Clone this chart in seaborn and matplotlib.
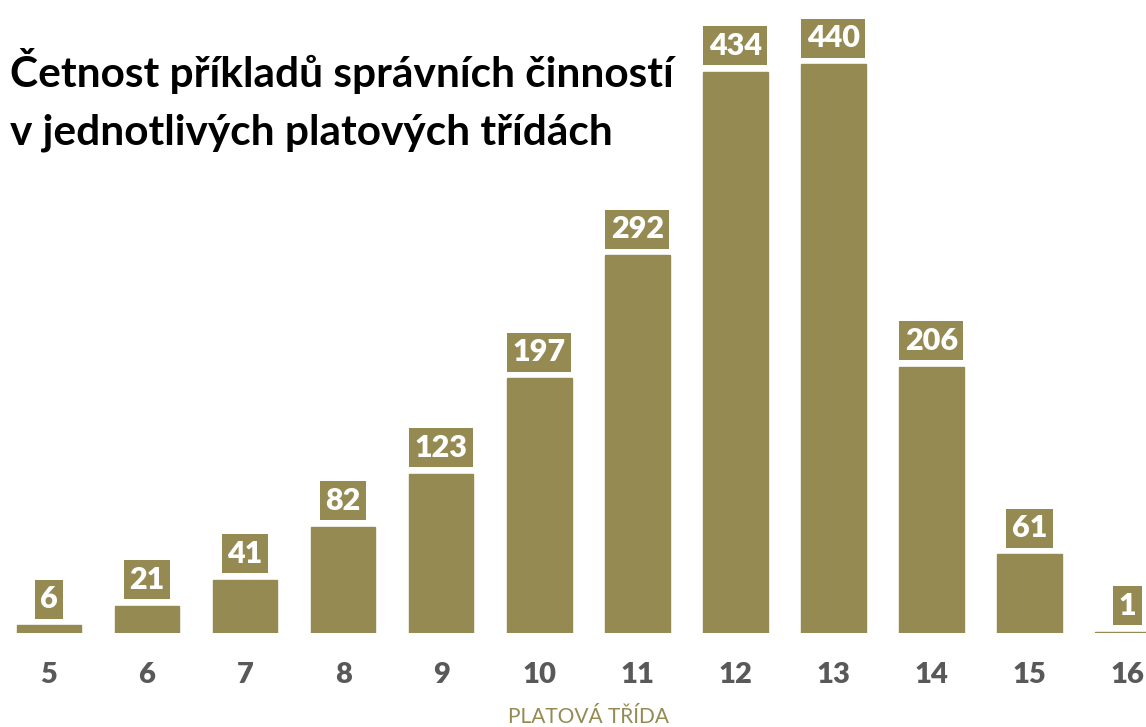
import matplotlib
matplotlib.use("Agg")
import matplotlib.pyplot as plt
import seaborn as sns
import pandas as pd

# Data
tridy = ["5", "6", "7", "8", "9", "10", "11", "12", "13", "14", "15", "16"]
cetnosti = [6, 21, 41, 82, 123, 197, 292, 434, 440, 206, 61, 1]

title_lines = ["Četnost příkladů správních činností",
               "v jednotlivých platových třídách"]
x_title = "PLATOVÁ TŘÍDA"

olive = "#958A52"
W, H = 1146, 727

sns.set_theme(style="white")
plt.rcParams['font.family'] = ['Lato', 'DejaVu Sans']

df = pd.DataFrame({"trida": tridy, "pocet": cetnosti})

fig = plt.figure(figsize=(W / 100, H / 100), dpi=100)
ax = fig.add_axes([0, 94 / H, 1, 633 / H])

sns.barplot(data=df, x="trida", y="pocet", color=olive, saturation=1,
            width=0.66, edgecolor=olive, linewidth=1, ax=ax)

ax.set_xlim(-0.5, 11.19)
ax.set_ylim(0, 489.5)
for s in ax.spines.values():
    s.set_visible(False)
ax.set_yticks([])
ax.set_ylabel("")
ax.set_xlabel("")
ax.set_xticks(range(len(tridy)))
ax.set_xticklabels(tridy, fontweight="heavy", fontsize=21, color="#595959")
ax.tick_params(axis="x", length=0, pad=21)

# value labels in boxes above the bars
for i, v in enumerate(cetnosti):
    ax.annotate(str(v), (i, v), xytext=(0, 12), textcoords="offset pixels",
                ha="center", va="bottom", fontsize=22, fontweight="heavy",
                color="white",
                bbox=dict(boxstyle="square,pad=0.18", fc=olive, ec="none"))

fig.text(588 / W, 1 - 717 / H, x_title, ha="center", va="center",
         fontsize=15, color=olive)

fig.text(10 / W, 1 - 87 / H, title_lines[0], ha="left", va="baseline",
         fontsize=30.5, fontweight="bold", color="black")
fig.text(10 / W, 1 - 145 / H, title_lines[1], ha="left", va="baseline",
         fontsize=30.5, fontweight="bold", color="black")

fig.savefig("out.png", dpi=100)
